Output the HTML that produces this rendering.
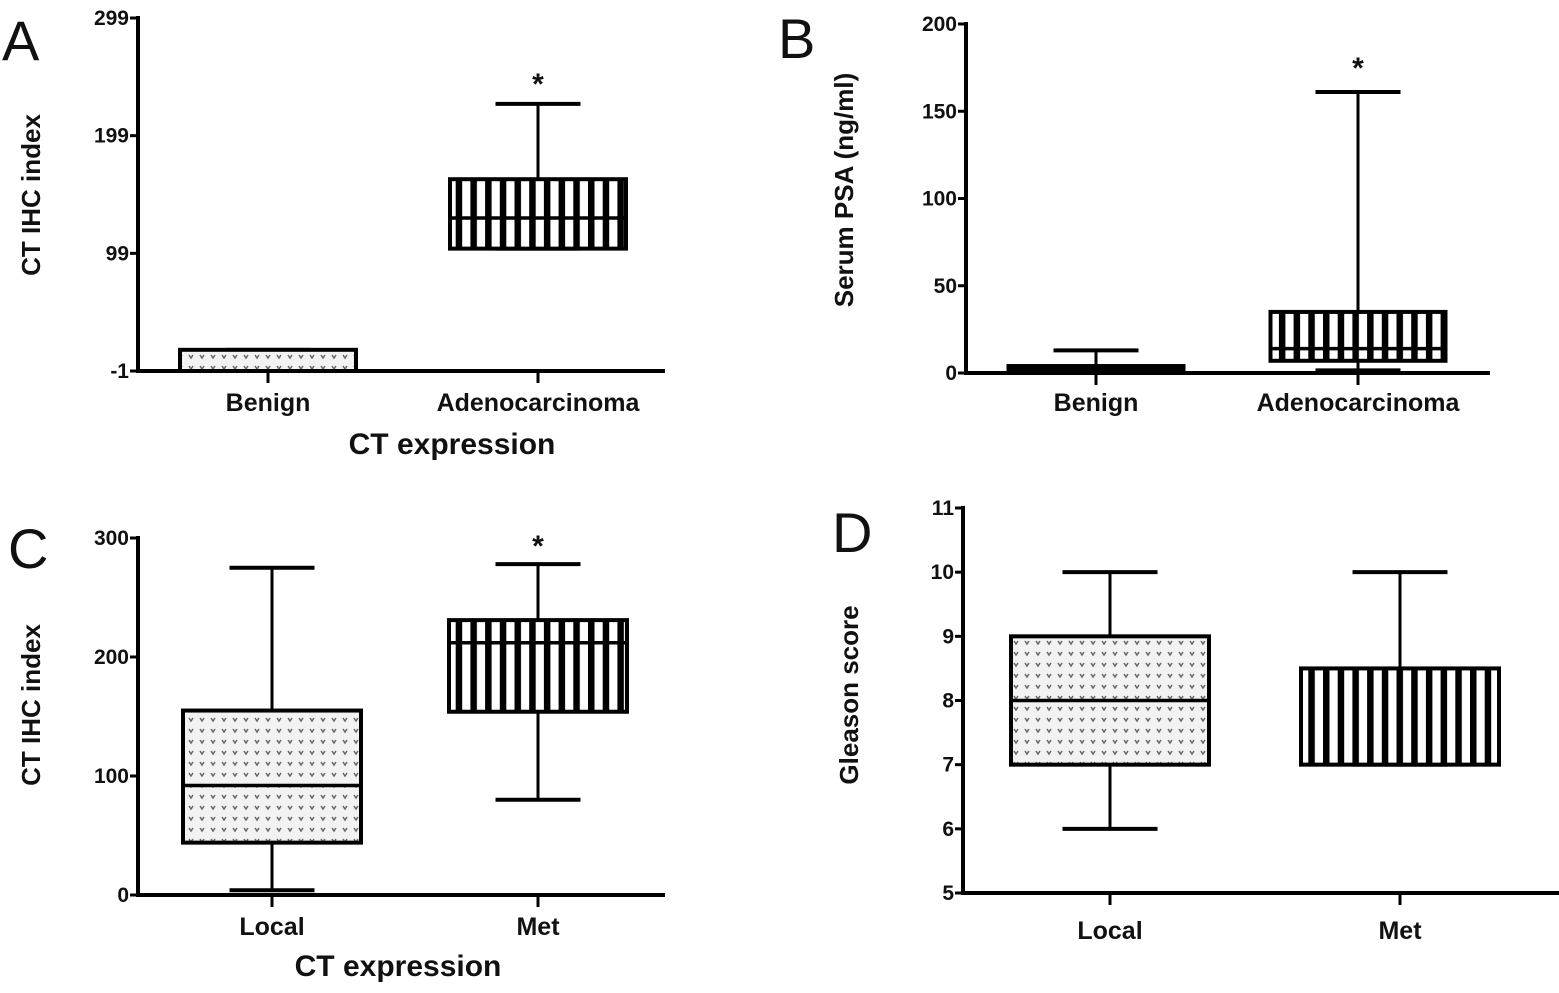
<!DOCTYPE html>
<html><head><meta charset="utf-8">
<style>
html,body{margin:0;padding:0;background:#fff;}
svg{display:block;}
text{font-family:"Liberation Sans",Arial,sans-serif;fill:#111;}
.tick{font-weight:bold;font-size:21px;}
.cat{font-weight:bold;font-size:25px;}
.ttl{font-weight:bold;font-size:30px;}
.ytl{font-weight:bold;font-size:26px;}
.pl{font-size:56px;}
</style></head>
<body>
<svg id="fig" width="1559" height="993" viewBox="0 0 1559 993" xmlns="http://www.w3.org/2000/svg">
<defs>
<pattern id="dots" width="11" height="11" patternUnits="userSpaceOnUse">
<rect width="11" height="11" fill="#f2f2f2"/>
<path d="M2 3 L4 6 L6 3" stroke="#666" stroke-width="1.5" fill="none"/>
</pattern>
<pattern id="stripes" width="14.7" height="10" patternUnits="userSpaceOnUse">
<rect width="14.7" height="10" fill="#fff"/>
<rect x="0" width="6.5" height="10" fill="#000"/>
</pattern>
</defs>
</svg>
<script>
// Panel A
const catsA = ["Benign","Adenocarcinoma"];
const minA = [-1, 103];
const q1A = [-1, 103];
const medA = [-1, 129];
const q3A = [17, 162];
const maxA = [17, 226];
const ticksA = [-1, 99, 199, 299];
// Panel B
const catsB = ["Benign","Adenocarcinoma"];
const minB = [0, 1.5];
const q1B = [0, 7];
const medB = [2, 14];
const q3B = [4, 35];
const maxB = [13, 161];
const ticksB = [0, 50, 100, 150, 200];
// Panel C
const catsC = ["Local","Met"];
const minC = [4, 80];
const q1C = [44, 154];
const medC = [92, 212];
const q3C = [155, 231];
const maxC = [275, 278];
const ticksC = [0, 100, 200, 300];
// Panel D
const catsD = ["Local","Met"];
const minD = [6, 7];
const q1D = [7, 7];
const medD = [8, 7];
const q3D = [9, 8.5];
const maxD = [10, 10];
const ticksD = [5, 6, 7, 8, 9, 10, 11];

const NS = "http://www.w3.org/2000/svg";
const svg = document.getElementById("fig");
function mk(tag, attrs, parent, txt){
  const e = document.createElementNS(NS, tag);
  for (const k in attrs) e.setAttribute(k, attrs[k]);
  if (txt !== undefined) e.textContent = txt;
  (parent || svg).appendChild(e);
  return e;
}

function panel(cfg){
  const g = mk("g", {});
  
  
  const y = v => cfg.yBot - (v - cfg.vMin) / (cfg.vMax - cfg.vMin) * (cfg.yBot - cfg.yTop);
  const x = i => cfg.catX[i];
  const ya = mk("line", {x1:cfg.ax, y1:cfg.yTop-2, x2:cfg.ax, y2:cfg.yBot+2, stroke:"#000","stroke-width":4}, g);
  
  
  const xa = mk("line", {x1:cfg.ax-2, y1:cfg.yBot, x2:cfg.xEnd, y2:cfg.yBot, stroke:"#000","stroke-width":4}, g);
  
  
  cfg.ticks.forEach(t => {
    mk("line", {x1:cfg.ax-8, y1:y(t), x2:cfg.ax, y2:y(t), stroke:"#000","stroke-width":3}, g);
    const tl = mk("text", {x:cfg.ax-9, y:y(t)+7, "text-anchor":"end", class:"tick"}, g, t);
    
    
  });
  cfg.cats.forEach((c, i) => {
    mk("line", {x1:x(i), y1:cfg.yBot, x2:x(i), y2:cfg.yBot+12, stroke:"#000","stroke-width":3}, g);
    const cl = mk("text", {x:x(i), y:cfg.yBot+cfg.catDy, "text-anchor":"middle", class:"cat"}, g, c);
    
    
    const bw = cfg.boxW, cw = cfg.capW;
    const fill = i === 0 ? "url(#dots)" : "url(#stripes)";
    const bg = mk("g", {}, g);
    
    
    mk("line", {x1:x(i), y1:y(cfg.max[i]), x2:x(i), y2:y(cfg.q3[i]), stroke:"#000","stroke-width":3}, bg);
    mk("line", {x1:x(i), y1:y(cfg.min[i]), x2:x(i), y2:y(cfg.q1[i]), stroke:"#000","stroke-width":3}, bg);
    mk("line", {x1:x(i)-cw/2, y1:y(cfg.max[i]), x2:x(i)+cw/2, y2:y(cfg.max[i]), stroke:"#000","stroke-width":4}, bg);
    mk("line", {x1:x(i)-cw/2, y1:y(cfg.min[i]), x2:x(i)+cw/2, y2:y(cfg.min[i]), stroke:"#000","stroke-width":4}, bg);
    const h = Math.max(2, y(cfg.q1[i]) - y(cfg.q3[i]));
    mk("rect", {x:x(i)-bw/2, y:y(cfg.q3[i]), width:bw, height:h, fill:fill, stroke:"#000","stroke-width":4}, bg);
    mk("line", {x1:x(i)-bw/2, y1:y(cfg.med[i]), x2:x(i)+bw/2, y2:y(cfg.med[i]), stroke:"#000","stroke-width":3.5}, bg);
    if (cfg.star && i === 1) {
      const s = mk("text", {x:x(i), y:y(cfg.max[i])-cfg.starDy, "text-anchor":"middle", style:"font-size:30px;font-weight:bold"}, g, "*");
      
      
    }
  });
  const yt = mk("text", {transform:`translate(${cfg.ytX},${cfg.ytY}) rotate(-90)`, "text-anchor":"middle", class:"ytl"}, g, cfg.ytitle);
  
  
  if (cfg.xtitle) {
    const xt = mk("text", {x:cfg.xtX, y:cfg.xtY, "text-anchor":"middle", class:"ttl"}, g, cfg.xtitle);
    
    
  }
  const pl = mk("text", {x:cfg.plX, y:cfg.plY, class:"pl"}, g, cfg.id);
  
  
}

panel({id:"A", ax:138, xEnd:665, yTop:18, yBot:371, vMin:-1, vMax:299, ticks:ticksA, cats:catsA, catX:[268,538],
  min:minA, q1:q1A, med:medA, q3:q3A, max:maxA, boxW:176, capW:85, catDy:40, star:true, starDy:10,
  ytitle:"CT IHC index", ytX:40, ytY:195, xtitle:"CT expression", xtX:452, xtY:454, plX:2, plY:60});
panel({id:"B", ax:966, xEnd:1490, yTop:24, yBot:373, vMin:0, vMax:200, ticks:ticksB, cats:catsB, catX:[1096,1358],
  min:minB, q1:q1B, med:medB, q3:q3B, max:maxB, boxW:175, capW:85, catDy:38, star:true, starDy:14,
  ytitle:"Serum PSA (ng/ml)", ytX:853, ytY:190, plX:778, plY:58});
panel({id:"C", ax:138, xEnd:665, yTop:538, yBot:895, vMin:0, vMax:300, ticks:ticksC, cats:catsC, catX:[272,538],
  min:minC, q1:q1C, med:medC, q3:q3C, max:maxC, boxW:178, capW:85, catDy:40, star:true, starDy:8,
  ytitle:"CT IHC index", ytX:40, ytY:705, xtitle:"CT expression", xtX:398, xtY:976, plX:8, plY:568});
panel({id:"D", ax:963, xEnd:1559, yTop:508, yBot:893, vMin:5, vMax:11, ticks:ticksD, cats:catsD, catX:[1110,1400],
  min:minD, q1:q1D, med:medD, q3:q3D, max:maxD, boxW:198, capW:95, catDy:46, star:false, starDy:0,
  ytitle:"Gleason score", ytX:858, ytY:695, plX:832, plY:552});
</script>
</body></html>
